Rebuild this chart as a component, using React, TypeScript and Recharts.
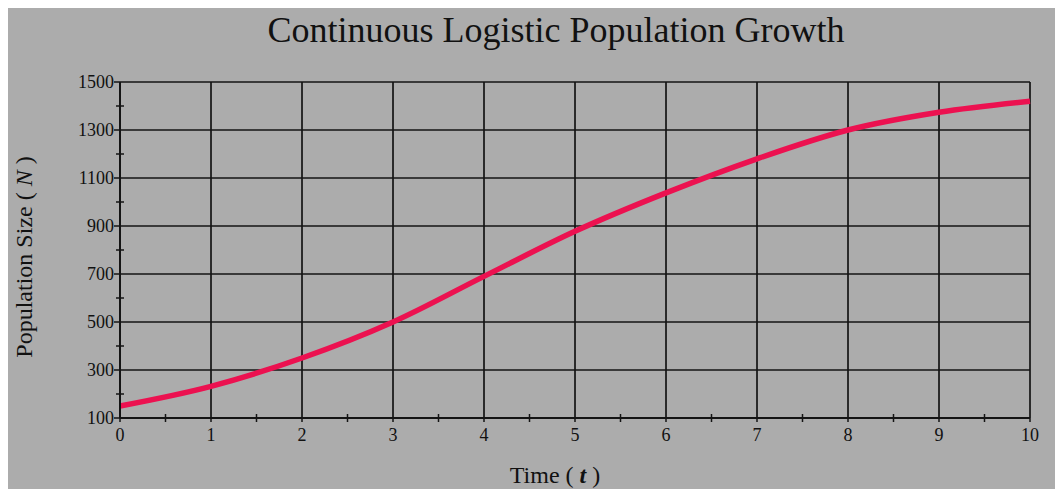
import React from "react";
import {
  LineChart,
  Line,
  XAxis,
  YAxis,
  ReferenceLine,
} from "recharts";

// time (t) and population size (N)
const times = [0, 1, 2, 3, 4, 5, 6, 7, 8, 9, 10];
const population = [150, 232, 350, 500, 690, 878, 1038, 1180, 1300, 1374, 1420];

const xTicks = [0, 0.5, 1, 1.5, 2, 2.5, 3, 3.5, 4, 4.5, 5, 5.5, 6, 6.5, 7, 7.5, 8, 8.5, 9, 9.5, 10];
const xMajor = [0, 1, 2, 3, 4, 5, 6, 7, 8, 9, 10];
const yTicks = [100, 200, 300, 400, 500, 600, 700, 800, 900, 1000, 1100, 1200, 1300, 1400, 1500];
const yMajor = [100, 300, 500, 700, 900, 1100, 1300, 1500];

const data = times.map((t, i) => ({ t, n: population[i] }));

const INK = "#141414";
const FONT = "'Liberation Serif', 'Times New Roman', serif";

const XTick = (props: any) => {
  const { x, y, payload } = props;
  const v = payload.value;
  if (xMajor.includes(v)) {
    return (
      <g>
        <line x1={x} x2={x} y1={y} y2={y + 4} stroke={INK} strokeWidth={1.5} />
        <text x={x} y={y + 23} textAnchor="middle" fontFamily={FONT} fontSize={18} fill="#111">
          {v}
        </text>
      </g>
    );
  }
  return <line x1={x} x2={x} y1={y - 4} y2={y + 4} stroke={INK} strokeWidth={1.5} />;
};

const YTick = (props: any) => {
  const { x, y, payload } = props;
  const v = payload.value;
  if (yMajor.includes(v)) {
    return (
      <g>
        <line x1={x - 6} x2={x} y1={y} y2={y} stroke={INK} strokeWidth={1.5} />
        <text x={x - 6} y={y} dy="0.35em" textAnchor="end" fontFamily={FONT} fontSize={18} fill="#111">
          {v}
        </text>
      </g>
    );
  }
  return <line x1={x - 4} x2={x + 4} y1={y} y2={y} stroke={INK} strokeWidth={1.5} />;
};

const XLabel = (props: any) => {
  const { x, y, width } = props.viewBox;
  return (
    <text x={x + width / 2 - 20} y={y + 65} textAnchor="middle" fontFamily={FONT} fontSize={24} fill="#111">
      Time (<tspan fontWeight="bold" fontStyle="italic"> t </tspan>)
    </text>
  );
};

const YLabel = (props: any) => {
  const { x, y, height } = props.viewBox;
  const cx = x + 25;
  const cy = y + height / 2 + 7;
  return (
    <text
      x={cx}
      y={cy}
      transform={`rotate(-90 ${cx} ${cy})`}
      textAnchor="middle"
      fontFamily={FONT}
      fontSize={24}
      fill="#111"
    >
      Population Size (<tspan fontStyle="italic"> N </tspan>)
    </text>
  );
};

export default function App() {
  return (
    <div
      style={{
        position: "relative",
        width: 1056,
        height: 482,
        margin: "-1px 0 0 -1px",
        background: "#acacac",
      }}
    >
      <div
        style={{
          position: "absolute",
          left: 549,
          top: 5,
          transform: "translateX(-50%)",
          fontFamily: FONT,
          fontSize: 36,
          lineHeight: "36px",
          whiteSpace: "nowrap",
          color: "#111",
        }}
      >
        Continuous Logistic Population Growth
      </div>
      <div style={{ position: "absolute", left: 0, top: 0 }}>
        <LineChart
          width={1056}
          height={482}
          data={data}
          margin={{ top: 75, right: 33, bottom: 41, left: 0 }}
        >
          <XAxis
            dataKey="t"
            type="number"
            domain={[0, 10]}
            ticks={xTicks}
            interval={0}
            height={30}
            tickSize={0}
            tickMargin={0}
            tickLine={false}
            axisLine={{ stroke: INK, strokeWidth: 2 }}
            tick={<XTick />}
            label={<XLabel />}
          />
          <YAxis
            type="number"
            domain={[100, 1500]}
            ticks={yTicks}
            interval={0}
            width={113}
            tickSize={0}
            tickMargin={0}
            tickLine={false}
            axisLine={{ stroke: INK, strokeWidth: 2 }}
            tick={<YTick />}
            label={<YLabel />}
          />
          {xMajor.slice(1).map((v) => (
            <ReferenceLine key={`vx${v}`} x={v} stroke={INK} strokeWidth={1.7} />
          ))}
          {yMajor.slice(1).map((v) => (
            <ReferenceLine key={`hy${v}`} y={v} stroke={INK} strokeWidth={1.7} />
          ))}
          <Line
            type="monotone"
            dataKey="n"
            stroke="#ec1150"
            strokeWidth={5.5}
            dot={false}
            isAnimationActive={false}
          />
        </LineChart>
      </div>
    </div>
  );
}
